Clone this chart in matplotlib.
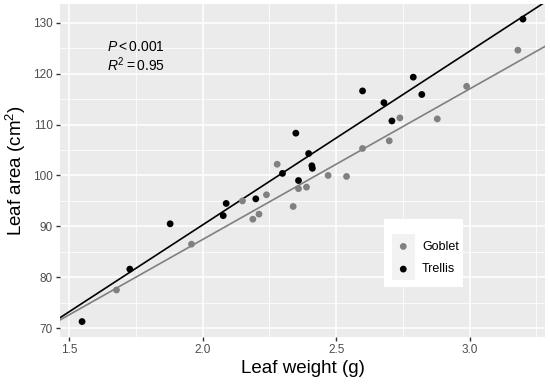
import numpy as np
import matplotlib
matplotlib.use("Agg")
import matplotlib.pyplot as plt
from matplotlib.patches import Rectangle

plt.rcParams['font.family'] = ['Liberation Sans', 'DejaVu Sans']
plt.rcParams['mathtext.fontset'] = 'custom'
plt.rcParams['mathtext.rm'] = 'Liberation Sans'
plt.rcParams['mathtext.it'] = 'Liberation Sans:italic'

# Goblet (grey points)
goblet_weight = [1.677, 1.958, 2.149, 2.188, 2.211, 2.239, 2.279, 2.339, 2.359,
                 2.389, 2.470, 2.539, 2.599, 2.699, 2.739, 2.879, 2.989, 3.181]
goblet_area = [77.5, 86.5, 95.0, 91.4, 92.4, 96.2, 102.2, 93.9, 97.4,
               97.7, 100.0, 99.8, 105.3, 106.8, 111.3, 111.1, 117.5, 124.6]

# Trellis (black points)
trellis_weight = [1.548, 1.727, 1.878, 2.077, 2.088, 2.199, 2.299, 2.349, 2.359,
                  2.397, 2.409, 2.411, 2.599, 2.679, 2.709, 2.789, 2.821, 3.200]
trellis_area = [71.3, 81.6, 90.5, 92.1, 94.5, 95.4, 100.4, 108.3, 99.0,
                104.3, 101.9, 101.4, 116.6, 114.3, 110.7, 119.3, 115.9, 130.7]

groups = ["Goblet", "Trellis"]
colors = {"Goblet": "#808080", "Trellis": "#000000"}
data = {"Goblet": (goblet_weight, goblet_area), "Trellis": (trellis_weight, trellis_area)}

fig = plt.figure(figsize=(5.5, 3.84), dpi=100)
ax = fig.add_axes([0.1091, 0.1232, 0.8818, 0.8664])
ax.set_facecolor("#EBEBEB")

# ggplot-style 5% expansion around the data
all_x = goblet_weight + trellis_weight
all_y = goblet_area + trellis_area
xr = max(all_x) - min(all_x)
yr = max(all_y) - min(all_y)
xlim = (min(all_x) - 0.05 * xr, max(all_x) + 0.05 * xr)
ylim = (min(all_y) - 0.05 * yr, max(all_y) + 0.05 * yr)

ax.set_xticks([1.5, 2.0, 2.5, 3.0])
ax.set_yticks([70, 80, 90, 100, 110, 120, 130])
ax.set_xticks([1.75, 2.25, 2.75, 3.25], minor=True)
ax.set_yticks([75, 85, 95, 105, 115, 125], minor=True)
ax.grid(which="major", color="white", linewidth=1.1)
ax.grid(which="minor", color="white", linewidth=0.55)
ax.set_axisbelow(True)

# linear fits over the full range
xs = np.array(xlim)
for g in groups:
    x, y = data[g]
    slope, intercept = np.polyfit(x, y, 1)
    ax.plot(xs, intercept + slope * xs, color=colors[g], linewidth=1.2, zorder=2)
handles = []
for g in groups:
    x, y = data[g]
    handles.append(ax.scatter(x, y, s=24, color=colors[g], edgecolors="none", label=g, zorder=3))

ax.set_xlim(xlim)
ax.set_ylim(ylim)

for s in ax.spines.values():
    s.set_visible(False)
ax.tick_params(which="major", length=3, width=1, color="#333333",
               labelcolor="#4D4D4D", labelsize=8.5, pad=2)
ax.tick_params(which="minor", length=0)
ax.set_xticklabels(["1.5", "2.0", "2.5", "3.0"])

ax.set_xlabel("Leaf weight (g)", fontsize=13.5, labelpad=3)
ax.set_ylabel("Leaf area (cm$^2$)", fontsize=13.5, labelpad=4)

ax.text(1.64, 125.3, r"$P < 0.001$", fontsize=10, ha="left", va="center")
ax.text(1.64, 121.8, r"$R^2 = 0.95$", fontsize=10, ha="left", va="center")

# legend: white box with light grey key background
fig.add_artist(Rectangle((384 / 550, 1 - 287.3 / 384), 79.3 / 550, 68 / 384,
                         transform=fig.transFigure, facecolor="white",
                         edgecolor="none", zorder=1))
fig.add_artist(Rectangle((391.7 / 550, 1 - 280 / 384), 23 / 550, 46 / 384,
                         transform=fig.transFigure, facecolor="#F2F2F2",
                         edgecolor="none", zorder=1.5))
leg = fig.legend(handles=handles, labels=groups, loc="center",
                 bbox_to_anchor=(0.777, 0.328), frameon=False, fontsize=9,
                 handletextpad=0.9, labelspacing=0.85, borderpad=1.35,
                 handlelength=1.2)
leg.set_zorder(2)

fig.savefig("out.png", dpi=100)
